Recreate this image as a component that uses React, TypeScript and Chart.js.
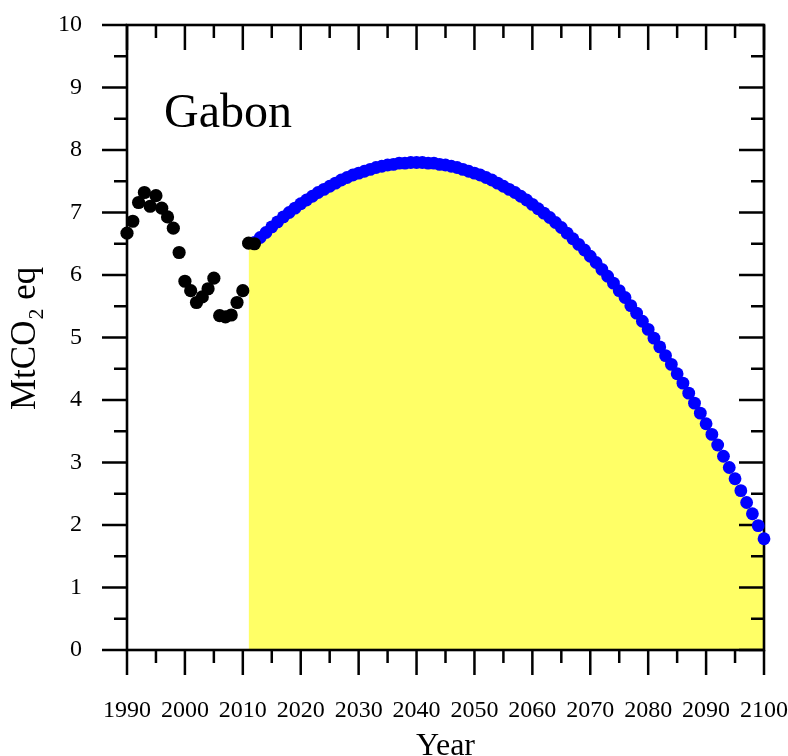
import { useEffect, useRef } from "react";
import { Chart, registerables } from "chart.js";

Chart.register(...registerables);

const FONT = "'Liberation Serif', 'Times New Roman', 'DejaVu Serif', serif";

const histYears = [
  1990, 1991, 1992, 1993, 1994, 1995, 1996, 1997, 1998, 1999,
  2000, 2001, 2002, 2003, 2004, 2005, 2006, 2007, 2008, 2009,
  2010, 2011, 2012,
];
const histValues = [
  6.67, 6.86, 7.16, 7.32, 7.1, 7.27, 7.07, 6.93, 6.75, 6.36,
  5.9, 5.75, 5.56, 5.65, 5.78, 5.95, 5.35, 5.33, 5.36, 5.56,
  5.75, 6.51, 6.5,
];

const projYears = [
  2012, 2013, 2014, 2015, 2016, 2017, 2018, 2019,
  2020, 2021, 2022, 2023, 2024, 2025, 2026, 2027, 2028, 2029,
  2030, 2031, 2032, 2033, 2034, 2035, 2036, 2037, 2038, 2039,
  2040, 2041, 2042, 2043, 2044, 2045, 2046, 2047, 2048, 2049,
  2050, 2051, 2052, 2053, 2054, 2055, 2056, 2057, 2058, 2059,
  2060, 2061, 2062, 2063, 2064, 2065, 2066, 2067, 2068, 2069,
  2070, 2071, 2072, 2073, 2074, 2075, 2076, 2077, 2078, 2079,
  2080, 2081, 2082, 2083, 2084, 2085, 2086, 2087, 2088, 2089,
  2090, 2091, 2092, 2093, 2094, 2095, 2096, 2097, 2098, 2099,
  2100,
];
const projValues = [
  6.52, 6.6, 6.68, 6.77, 6.85, 6.93, 7.0, 7.07,
  7.14, 7.2, 7.26, 7.32, 7.37, 7.42, 7.47, 7.52, 7.56, 7.6,
  7.63, 7.66, 7.69, 7.72, 7.74, 7.76, 7.77, 7.79, 7.79, 7.8,
  7.8, 7.8, 7.79, 7.79, 7.77, 7.76, 7.74, 7.72, 7.69, 7.66,
  7.63, 7.6, 7.56, 7.52, 7.47, 7.42, 7.37, 7.32, 7.26, 7.2,
  7.13, 7.06, 6.99, 6.92, 6.84, 6.76, 6.67, 6.58, 6.49, 6.4,
  6.3, 6.2, 6.09, 5.98, 5.87, 5.75, 5.64, 5.51, 5.39, 5.26,
  5.13, 4.99, 4.85, 4.71, 4.57, 4.42, 4.27, 4.11, 3.95, 3.79,
  3.62, 3.45, 3.28, 3.1, 2.92, 2.74, 2.55, 2.36, 2.18, 1.99,
  1.78,
];

// Yellow area begins at the 2011 observed value
const fillStartYear = 2011;
const fillStartValue = 6.51;

const xTickLabels = [1990, 2000, 2010, 2020, 2030, 2040, 2050, 2060, 2070, 2080, 2090, 2100];
const yTickLabels = [0, 1, 2, 3, 4, 5, 6, 7, 8, 9, 10];

const titleText = "Gabon";
const xTitle = "Year";

const framePlugin = {
  id: "frameTicks",
  afterDatasetDraw(chart: any, args: any) {
    if (args.index !== 0) return;
    const { ctx, chartArea } = chart;
    const xs = chart.scales.x;
    const ys = chart.scales.y;
    const { left, right, top, bottom } = chartArea;
    const major = 25;
    const minor = 13;
    ctx.save();
    ctx.strokeStyle = "#000";
    ctx.lineWidth = 2.5;
    ctx.lineCap = "butt";
    ctx.beginPath();
    for (let v = xTickLabels[0]; v <= xTickLabels[xTickLabels.length - 1]; v += 5) {
      const px = xs.getPixelForValue(v);
      const len = (v - xTickLabels[0]) % 10 === 0 ? major : minor;
      ctx.moveTo(px, bottom);
      ctx.lineTo(px, bottom + len);
      ctx.moveTo(px, top);
      ctx.lineTo(px, top + len);
    }
    for (let i = 0; i <= 20; i++) {
      const v = i * 0.5;
      const py = ys.getPixelForValue(v);
      const len = i % 2 === 0 ? major : minor;
      ctx.moveTo(left, py);
      ctx.lineTo(left - len, py);
      ctx.moveTo(right, py);
      ctx.lineTo(right - len, py);
    }
    ctx.stroke();
    ctx.lineWidth = 2.6;
    ctx.strokeRect(left, top, right - left, bottom - top);
    ctx.restore();
  },
  afterDraw(chart: any) {
    const { ctx, chartArea } = chart;
    ctx.save();
    ctx.fillStyle = "#000";
    ctx.textAlign = "left";
    ctx.textBaseline = "alphabetic";
    ctx.font = `48px ${FONT}`;
    ctx.fillText(titleText, 164, 127);

    ctx.font = `32px ${FONT}`;
    ctx.textAlign = "center";
    ctx.fillText(xTitle, (chartArea.left + chartArea.right) / 2, 755);

    ctx.translate(35, 410);
    ctx.rotate(-Math.PI / 2);
    ctx.textAlign = "left";
    ctx.font = `35px ${FONT}`;
    ctx.fillText("MtCO", 0, 0);
    const w1 = ctx.measureText("MtCO").width;
    ctx.font = `22px ${FONT}`;
    ctx.fillText("2", w1 + 1, 8);
    const w2 = ctx.measureText("2").width;
    ctx.font = `35px ${FONT}`;
    ctx.fillText(" eq", w1 + w2 + 1, 0);
    ctx.restore();
  },
};

export default function App() {
  const ref = useRef<HTMLCanvasElement | null>(null);

  useEffect(() => {
    if (!ref.current) return;
    const fillData = [{ x: fillStartYear, y: fillStartValue }].concat(
      projYears.map((x, i) => ({ x, y: projValues[i] }))
    );
    const chart = new Chart(ref.current, {
      type: "scatter",
      data: {
        datasets: [
          {
            type: "line",
            data: fillData,
            borderWidth: 0,
            borderColor: "rgba(0,0,0,0)",
            pointRadius: 0,
            backgroundColor: "#FFFF66",
            fill: "origin",
            tension: 0,
            order: 3,
          } as any,
          {
            data: projYears.map((x, i) => ({ x, y: projValues[i] })),
            backgroundColor: "#0000FF",
            borderWidth: 0,
            pointRadius: 6.4,
            clip: false,
            order: 2,
          } as any,
          {
            data: histYears.map((x, i) => ({ x, y: histValues[i] })),
            backgroundColor: "#000000",
            borderWidth: 0,
            pointRadius: 6.6,
            clip: false,
            order: 1,
          } as any,
        ],
      },
      options: {
        animation: false,
        responsive: false,
        devicePixelRatio: 1,
        layout: { padding: { top: 25, right: 24, left: 0, bottom: 0 } },
        plugins: {
          legend: { display: false },
          tooltip: { enabled: false },
          title: { display: false },
        },
        scales: {
          x: {
            type: "linear",
            min: xTickLabels[0],
            max: xTickLabels[xTickLabels.length - 1],
            border: { display: false },
            grid: { display: false, drawTicks: false },
            ticks: {
              stepSize: 10,
              padding: 46,
              color: "#000",
              font: { family: FONT, size: 24 },
              maxRotation: 0,
              autoSkip: false,
              callback: (v: any) => String(v),
            },
            afterFit: (s: any) => {
              s.height = 106;
              s.paddingLeft = 0;
              s.paddingRight = 0;
            },
          },
          y: {
            type: "linear",
            min: yTickLabels[0],
            max: yTickLabels[yTickLabels.length - 1],
            border: { display: false },
            grid: { display: false, drawTicks: false },
            ticks: {
              stepSize: 1,
              padding: 45,
              color: "#000",
              font: { family: FONT, size: 24 },
              callback: (v: any) => String(v),
            },
            afterFit: (s: any) => {
              s.width = 127;
              s.paddingTop = 0;
              s.paddingBottom = 0;
            },
          },
        },
      } as any,
      plugins: [framePlugin],
    });
    return () => chart.destroy();
  }, []);

  return (
    <div style={{ position: "fixed", left: 0, top: 0, width: 788, height: 756, background: "#fff" }}>
      <canvas ref={ref} width={788} height={756} style={{ width: 788, height: 756, display: "block" }} />
    </div>
  );
}
